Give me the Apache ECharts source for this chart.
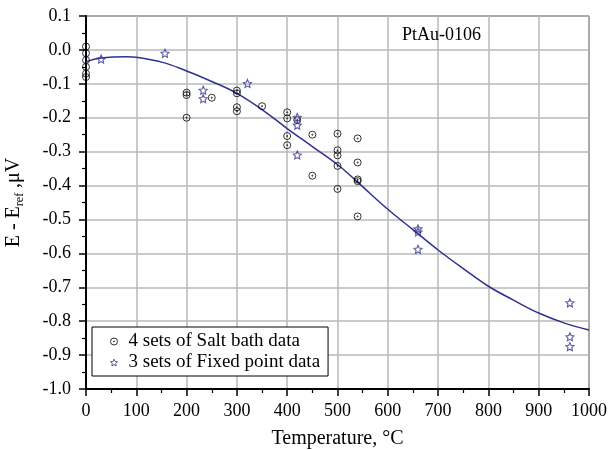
<!DOCTYPE html>
<html>
<head>
<meta charset="utf-8">
<script src="https://cdn.jsdelivr.net/npm/echarts@6/dist/echarts.min.js"></script>
<style>
html, body { margin: 0; padding: 0; background: #fff; }
#main { width: 609px; height: 450px; }
</style>
</head>
<body>
<div id="main"></div>
<script>
// salt bath points
var saltT = [0, 0, 0, 0, 0, 0, 200, 200, 200, 250, 300, 300, 300, 300, 350, 400, 400, 400, 400, 420, 450, 450, 500, 500, 500, 500, 500, 540, 540, 540, 540, 540];
var saltV = [0.01, -0.01, -0.03, -0.05, -0.07, -0.08, -0.126, -0.133, -0.2, -0.141, -0.12, -0.128, -0.169, -0.181, -0.166, -0.184, -0.202, -0.254, -0.281, -0.207, -0.25, -0.371, -0.247, -0.296, -0.311, -0.342, -0.41, -0.261, -0.332, -0.382, -0.387, -0.491];
// fixed point data
var fixedT = [30, 157, 233, 233, 321, 420, 420, 420, 660, 660, 660, 962, 962, 962];
var fixedV = [-0.027, -0.01, -0.119, -0.144, -0.099, -0.199, -0.222, -0.31, -0.528, -0.537, -0.588, -0.746, -0.846, -0.875];
// fitted curve
var fitT = [0, 30, 80, 150, 200, 250, 300, 350, 400, 450, 500, 540, 600, 650, 700, 750, 800, 850, 900, 950, 1000];
var fitV = [-0.035, -0.024, -0.02, -0.036, -0.062, -0.093, -0.128, -0.176, -0.232, -0.285, -0.338, -0.39, -0.47, -0.53, -0.59, -0.645, -0.697, -0.738, -0.776, -0.805, -0.826];

var seriesNames = ['4 sets of Salt bath data', '3 sets of Fixed point data'];
var chartTitle = 'PtAu-0106';

function pairs(a, b) {
    return a.map(function (x, i) { return [x, b[i]]; });
}

var circleDot = 'path://M0,-5A5,5,0,1,1,0,5A5,5,0,1,1,0,-5Z M0,-0.8A0.8,0.8,0,1,1,0,0.8A0.8,0.8,0,1,1,0,-0.8Z';
// open star
var starPath = (function () {
    var p = [];
    for (var i = 0; i < 10; i++) {
        var r = i % 2 === 0 ? 5 : 2.4;
        var a = -Math.PI / 2 + i * Math.PI / 5;
        p.push((i === 0 ? 'M' : 'L') + (r * Math.cos(a)).toFixed(3) + ',' + (r * Math.sin(a)).toFixed(3));
    }
    return 'path://' + p.join(' ') + 'Z';
})();

var blue = '#2e3192';
var font = '"Liberation Serif", "Times New Roman", serif';
var clear = 'rgba(255,255,255,0)';

var chart = echarts.init(document.getElementById('main'));
var option = {
    animation: false,
    textStyle: { fontFamily: font },
    title: {
        text: chartTitle,
        left: 397, top: 21,
        textStyle: { fontFamily: font, fontSize: 18, fontWeight: 'normal', color: '#000' }
    },
    grid: {
        left: 86, right: 20, top: 16, bottom: 61,
        outerBoundsMode: 'none',
        containLabel: false,
        show: true, borderColor: '#000', borderWidth: 1
    },
    legend: {
        orient: 'vertical',
        left: 92, top: 327,
        data: [
            { name: seriesNames[0], icon: circleDot, itemStyle: { color: clear, borderColor: '#000', borderWidth: 1 } },
            { name: seriesNames[1], icon: starPath, itemStyle: { color: clear, borderColor: blue, borderWidth: 1 } }
        ],
        borderColor: '#000', borderWidth: 1,
        padding: [5, 8, 4, 18],
        itemGap: 2,
        itemWidth: 7, itemHeight: 7,
        backgroundColor: '#fff',
        textStyle: { fontFamily: font, fontSize: 19, color: '#000', padding: [0, 0, 0, 6] }
    },
    xAxis: {
        type: 'value', min: 0, max: 1000, interval: 100,
        name: 'Temperature, °C', nameLocation: 'middle', nameGap: 40,
        nameTextStyle: { fontFamily: font, fontSize: 20, color: '#000' },
        axisLine: { onZero: false, lineStyle: { color: '#000', width: 2 } },
        axisTick: { length: 7, lineStyle: { color: '#000', width: 1.5 } },
        minorTick: { show: true, splitNumber: 2, length: 4, lineStyle: { color: '#000', width: 1.2 } },
        axisLabel: {
            fontFamily: font, fontSize: 18, color: '#000', margin: 13,
            formatter: function (v) { return String(v); }
        },
        splitLine: { show: true, lineStyle: { color: '#b8b8b8', width: 1.5 } }
    },
    yAxis: {
        type: 'value', min: -1.0, max: 0.1, interval: 0.1,
        name: 'E - E{sub|ref} ,μV', nameLocation: 'middle', nameGap: 60,
        nameTextStyle: {
            fontFamily: font, fontSize: 20, color: '#000',
            rich: { sub: { fontFamily: font, fontSize: 12, color: '#000', verticalAlign: 'bottom', padding: [12, 0, 0, 0] } }
        },
        axisLine: { onZero: false, lineStyle: { color: '#000', width: 2 } },
        axisTick: { length: 7, lineStyle: { color: '#000', width: 1.5 } },
        minorTick: { show: true, splitNumber: 2, length: 4, lineStyle: { color: '#000', width: 1.2 } },
        axisLabel: {
            fontFamily: font, fontSize: 18, color: '#000', margin: 15,
            formatter: function (v) { return v.toFixed(1); }
        },
        splitLine: { show: true, lineStyle: { color: '#b8b8b8', width: 1.5 } }
    },
    series: [
        {
            name: 'fit',
            type: 'line',
            data: pairs(fitT, fitV),
            smooth: 0.4,
            showSymbol: false,
            lineStyle: { color: blue, width: 1.5 },
            z: 2
        },
        {
            name: seriesNames[0],
            type: 'scatter',
            data: pairs(saltT, saltV),
            symbol: circleDot,
            symbolSize: 7,
            clip: false,
            itemStyle: { color: clear, borderColor: '#000', borderWidth: 1 },
            z: 3
        },
        {
            name: seriesNames[1],
            type: 'scatter',
            data: pairs(fixedT, fixedV),
            symbol: starPath,
            symbolSize: 8,
            clip: false,
            itemStyle: { color: clear, borderColor: blue, borderWidth: 1.1 },
            z: 4
        }
    ]
};
chart.setOption(option);
</script>
</body>
</html>
